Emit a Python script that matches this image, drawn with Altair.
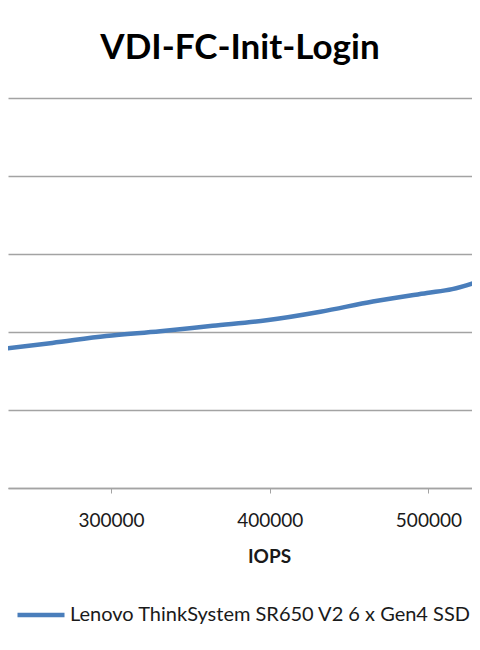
import altair as alt
import pandas as pd

# Data
iops = [230000, 263000, 297000, 331000, 364000, 398000, 432000, 465000, 499000, 515000, 532000]
latency = [1.78, 1.86, 1.95, 2.01, 2.08, 2.15, 2.26, 2.39, 2.50, 2.55, 2.65]
series_name = "Lenovo ThinkSystem SR650 V2 6 x Gen4 SSD"
x_ticks = [300000, 400000, 500000]
y_ticks = [0, 1, 2, 3, 4, 5]

df = pd.DataFrame({
    "IOPS": iops,
    "Latency": latency,
    "Series": [series_name] * len(iops),
})

FONT = "Lato"
GRID = "#a3a3a3"

chart = alt.Chart(df).mark_line(
    interpolate="monotone", strokeWidth=4.5, clip=True
).encode(
    x=alt.X(
        "IOPS:Q",
        scale=alt.Scale(domain=[235100, 527470], nice=False, zero=False),
        axis=alt.Axis(
            values=x_ticks, format="d", title="IOPS", grid=False,
            labelFont=FONT, labelFontSize=19, labelColor="#1a1a1a",
            labelPadding=18, tickSize=5, tickColor=GRID, domainColor=GRID,
            domainWidth=1.5, labelFlush=False,
            titleFont=FONT, titleFontSize=19, titleFontWeight="bold",
            titleColor="#1a1a1a", titleBaseline="alphabetic", titleY=74, titleX=261,
        ),
    ),
    y=alt.Y(
        "Latency:Q",
        scale=alt.Scale(domain=[0, 5], nice=False),
        axis=alt.Axis(
            values=y_ticks, labels=False, ticks=False, domain=False, title=None,
            grid=True, gridColor=GRID, gridWidth=1.5,
        ),
    ),
    color=alt.Color(
        "Series:N",
        scale=alt.Scale(range=["#4A7EBB"]),
        legend=alt.Legend(
            orient="none", legendX=7, legendY=491, title=None,
            symbolType="stroke", symbolSize=2209, symbolStrokeWidth=4.5,
            labelFont=FONT, labelFontSize=20, labelColor="#1a1a1a",
            labelOffset=3, padding=0, labelLimit=600,
        ),
    ),
).properties(
    width=464,
    height=390,
    padding={"left": 0, "right": 0, "top": 90, "bottom": 154},
    autosize=alt.AutoSizeParams(type="none"),
    title=alt.TitleParams(
        "VDI-FC-Init-Login", font=FONT, fontSize=35, fontWeight="bold",
        color="black", anchor="middle", frame="group", baseline="alphabetic",
        offset=4,
    ),
).configure_view(stroke=None)

chart.save("out.html", embed_options={"renderer": "svg", "actions": False})
